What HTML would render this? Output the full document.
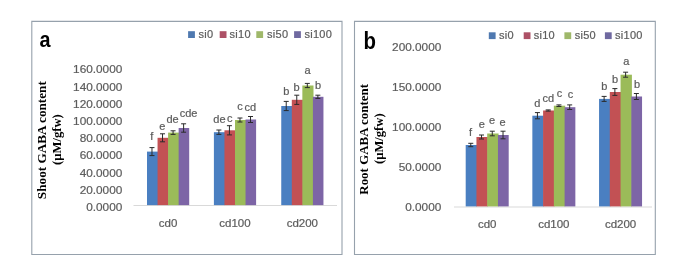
<!DOCTYPE html>
<html><head><meta charset="utf-8"><style>
html,body{margin:0;padding:0;background:#fff;width:685px;height:260px;overflow:hidden}
svg{display:block;filter:blur(0.3px)}
</style></head><body>
<svg width="685" height="260" viewBox="0 0 685 260">
<rect width="685" height="260" fill="#fff"/>
<path d="M31.8 21.4H342M31.8 254.5H342M31.8 21.4V254.5M342 21.4V254.5" fill="none" stroke="#96a1ac" stroke-width="1.1" stroke-linecap="square"/>
<text transform="translate(39.6,47.1) scale(0.9,1)" font-family="Liberation Sans, sans-serif" font-weight="bold" font-size="22" fill="#000">a</text>
<rect x="188.1" y="31.2" width="6.8" height="6.8" fill="#4f79b0"/>
<text x="198.6" y="38.4" font-family="Liberation Sans, sans-serif" font-size="11" letter-spacing="0.25" fill="#595959" stroke="#666" stroke-width="0.22">si0</text>
<rect x="219.7" y="31.2" width="6.8" height="6.8" fill="#ad5166"/>
<text x="229.6" y="38.4" font-family="Liberation Sans, sans-serif" font-size="11" letter-spacing="0.25" fill="#595959" stroke="#666" stroke-width="0.22">si10</text>
<rect x="256.3" y="31.2" width="6.8" height="6.8" fill="#9fb86a"/>
<text x="267.1" y="38.4" font-family="Liberation Sans, sans-serif" font-size="11" letter-spacing="0.25" fill="#595959" stroke="#666" stroke-width="0.22">si50</text>
<rect x="294.1" y="31.2" width="6.8" height="6.8" fill="#6f69a0"/>
<text x="304.5" y="38.4" font-family="Liberation Sans, sans-serif" font-size="11" letter-spacing="0.25" fill="#595959" stroke="#666" stroke-width="0.22">si100</text>
<text x="122.3" y="211.00" text-anchor="end" font-family="Liberation Sans, sans-serif" font-size="11.8" fill="#595959" stroke="#666" stroke-width="0.22">0.0000</text>
<text x="122.3" y="193.79" text-anchor="end" font-family="Liberation Sans, sans-serif" font-size="11.8" fill="#595959" stroke="#666" stroke-width="0.22">20.0000</text>
<text x="122.3" y="176.58" text-anchor="end" font-family="Liberation Sans, sans-serif" font-size="11.8" fill="#595959" stroke="#666" stroke-width="0.22">40.0000</text>
<text x="122.3" y="159.36" text-anchor="end" font-family="Liberation Sans, sans-serif" font-size="11.8" fill="#595959" stroke="#666" stroke-width="0.22">60.0000</text>
<text x="122.3" y="142.15" text-anchor="end" font-family="Liberation Sans, sans-serif" font-size="11.8" fill="#595959" stroke="#666" stroke-width="0.22">80.0000</text>
<text x="122.3" y="124.94" text-anchor="end" font-family="Liberation Sans, sans-serif" font-size="11.8" fill="#595959" stroke="#666" stroke-width="0.22">100.0000</text>
<text x="122.3" y="107.73" text-anchor="end" font-family="Liberation Sans, sans-serif" font-size="11.8" fill="#595959" stroke="#666" stroke-width="0.22">120.0000</text>
<text x="122.3" y="90.52" text-anchor="end" font-family="Liberation Sans, sans-serif" font-size="11.8" fill="#595959" stroke="#666" stroke-width="0.22">140.0000</text>
<text x="122.3" y="73.30" text-anchor="end" font-family="Liberation Sans, sans-serif" font-size="11.8" fill="#595959" stroke="#666" stroke-width="0.22">160.0000</text>
<line x1="133.5" y1="205.5" x2="337" y2="205.5" stroke="#d9d9d9" stroke-width="1"/>
<rect x="147.00" y="151.60" width="11.15" height="53.50" fill="#4a7fc1"/>
<rect x="157.55" y="137.80" width="11.15" height="67.30" fill="#c25154"/>
<rect x="168.10" y="132.60" width="11.15" height="72.50" fill="#9bbb59"/>
<rect x="178.65" y="128.00" width="10.55" height="77.10" fill="#7d65a6"/>
<path d="M151.97 147.60V155.60M149.47 147.60H154.47M149.47 155.60H154.47" stroke="#2b2b2b" stroke-width="1" fill="none"/>
<text x="151.80" y="140.40" text-anchor="middle" font-family="Liberation Sans, sans-serif" font-size="11" fill="#595959" stroke="#666" stroke-width="0.22">f</text>
<path d="M162.53 133.80V141.80M160.03 133.80H165.03M160.03 141.80H165.03" stroke="#2b2b2b" stroke-width="1" fill="none"/>
<text x="162.30" y="130.00" text-anchor="middle" font-family="Liberation Sans, sans-serif" font-size="11" fill="#595959" stroke="#666" stroke-width="0.22">e</text>
<path d="M173.07 130.80V134.40M170.57 130.80H175.57M170.57 134.40H175.57" stroke="#2b2b2b" stroke-width="1" fill="none"/>
<text x="172.60" y="123.00" text-anchor="middle" font-family="Liberation Sans, sans-serif" font-size="11" fill="#595959" stroke="#666" stroke-width="0.22">de</text>
<path d="M183.62 123.80V132.20M181.12 123.80H186.12M181.12 132.20H186.12" stroke="#2b2b2b" stroke-width="1" fill="none"/>
<text x="188.50" y="117.30" text-anchor="middle" font-family="Liberation Sans, sans-serif" font-size="11" fill="#595959" stroke="#666" stroke-width="0.22">cde</text>
<rect x="213.90" y="132.20" width="11.15" height="72.90" fill="#4a7fc1"/>
<rect x="224.45" y="130.30" width="11.15" height="74.80" fill="#c25154"/>
<rect x="235.00" y="120.00" width="11.15" height="85.10" fill="#9bbb59"/>
<rect x="245.55" y="119.50" width="10.55" height="85.60" fill="#7d65a6"/>
<path d="M218.88 130.00V134.40M216.38 130.00H221.38M216.38 134.40H221.38" stroke="#2b2b2b" stroke-width="1" fill="none"/>
<text x="219.40" y="122.70" text-anchor="middle" font-family="Liberation Sans, sans-serif" font-size="11" fill="#595959" stroke="#666" stroke-width="0.22">de</text>
<path d="M229.43 125.70V134.90M226.93 125.70H231.93M226.93 134.90H231.93" stroke="#2b2b2b" stroke-width="1" fill="none"/>
<text x="229.80" y="121.50" text-anchor="middle" font-family="Liberation Sans, sans-serif" font-size="11" fill="#595959" stroke="#666" stroke-width="0.22">c</text>
<path d="M239.97 118.00V122.00M237.47 118.00H242.47M237.47 122.00H242.47" stroke="#2b2b2b" stroke-width="1" fill="none"/>
<text x="240.00" y="110.20" text-anchor="middle" font-family="Liberation Sans, sans-serif" font-size="11" fill="#595959" stroke="#666" stroke-width="0.22">c</text>
<path d="M250.53 116.50V122.50M248.03 116.50H253.03M248.03 122.50H253.03" stroke="#2b2b2b" stroke-width="1" fill="none"/>
<text x="250.20" y="111.00" text-anchor="middle" font-family="Liberation Sans, sans-serif" font-size="11" fill="#595959" stroke="#666" stroke-width="0.22">cd</text>
<rect x="281.25" y="106.00" width="11.15" height="99.10" fill="#4a7fc1"/>
<rect x="291.80" y="99.80" width="11.15" height="105.30" fill="#c25154"/>
<rect x="302.35" y="85.50" width="11.15" height="119.60" fill="#9bbb59"/>
<rect x="312.90" y="96.80" width="10.55" height="108.30" fill="#7d65a6"/>
<path d="M286.22 101.40V110.60M283.72 101.40H288.72M283.72 110.60H288.72" stroke="#2b2b2b" stroke-width="1" fill="none"/>
<text x="286.30" y="95.10" text-anchor="middle" font-family="Liberation Sans, sans-serif" font-size="11" fill="#595959" stroke="#666" stroke-width="0.22">b</text>
<path d="M296.77 95.20V104.40M294.27 95.20H299.27M294.27 104.40H299.27" stroke="#2b2b2b" stroke-width="1" fill="none"/>
<text x="296.60" y="90.80" text-anchor="middle" font-family="Liberation Sans, sans-serif" font-size="11" fill="#595959" stroke="#666" stroke-width="0.22">b</text>
<path d="M307.32 83.40V87.60M304.82 83.40H309.82M304.82 87.60H309.82" stroke="#2b2b2b" stroke-width="1" fill="none"/>
<text x="307.50" y="74.20" text-anchor="middle" font-family="Liberation Sans, sans-serif" font-size="11" fill="#595959" stroke="#666" stroke-width="0.22">a</text>
<path d="M317.87 95.20V98.40M315.37 95.20H320.37M315.37 98.40H320.37" stroke="#2b2b2b" stroke-width="1" fill="none"/>
<text x="318.00" y="88.70" text-anchor="middle" font-family="Liberation Sans, sans-serif" font-size="11" fill="#595959" stroke="#666" stroke-width="0.22">b</text>
<text x="168.10" y="227.2" text-anchor="middle" font-family="Liberation Sans, sans-serif" font-size="11.5" fill="#595959" stroke="#666" stroke-width="0.22">cd0</text>
<text x="235.00" y="227.2" text-anchor="middle" font-family="Liberation Sans, sans-serif" font-size="11.5" fill="#595959" stroke="#666" stroke-width="0.22">cd100</text>
<text x="302.35" y="227.2" text-anchor="middle" font-family="Liberation Sans, sans-serif" font-size="11.5" fill="#595959" stroke="#666" stroke-width="0.22">cd200</text>
<text transform="translate(45.6,140.15) rotate(-90)" text-anchor="middle" font-family="Liberation Serif, serif" font-weight="bold" font-size="13.2" fill="#000">Shoot GABA content</text>
<text transform="translate(61.2,139.6) rotate(-90)" text-anchor="middle" font-family="Liberation Serif, serif" font-weight="bold" font-size="12.6" fill="#000">(µM/gfw)</text>
<path d="M354.5 21.4H655.3M354.5 254.5H655.3M354.5 21.4V254.5M655.3 21.4V254.5" fill="none" stroke="#96a1ac" stroke-width="1.1" stroke-linecap="square"/>
<text transform="translate(363.4,48.6) scale(0.84,1)" font-family="Liberation Sans, sans-serif" font-weight="bold" font-size="24.3" fill="#000">b</text>
<rect x="488.8" y="32.3" width="6.8" height="6.8" fill="#4f79b0"/>
<text x="499" y="39.2" font-family="Liberation Sans, sans-serif" font-size="11" letter-spacing="0.25" fill="#595959" stroke="#666" stroke-width="0.22">si0</text>
<rect x="523.7" y="32.3" width="6.8" height="6.8" fill="#ad5166"/>
<text x="533.7" y="39.2" font-family="Liberation Sans, sans-serif" font-size="11" letter-spacing="0.25" fill="#595959" stroke="#666" stroke-width="0.22">si10</text>
<rect x="564.4" y="32.3" width="6.8" height="6.8" fill="#9fb86a"/>
<text x="574.7" y="39.2" font-family="Liberation Sans, sans-serif" font-size="11" letter-spacing="0.25" fill="#595959" stroke="#666" stroke-width="0.22">si50</text>
<rect x="604.9" y="32.3" width="6.8" height="6.8" fill="#6f69a0"/>
<text x="615.1" y="39.2" font-family="Liberation Sans, sans-serif" font-size="11" letter-spacing="0.25" fill="#595959" stroke="#666" stroke-width="0.22">si100</text>
<text x="441.3" y="210.70" text-anchor="end" font-family="Liberation Sans, sans-serif" font-size="11.8" fill="#595959" stroke="#666" stroke-width="0.22">0.0000</text>
<text x="441.3" y="170.88" text-anchor="end" font-family="Liberation Sans, sans-serif" font-size="11.8" fill="#595959" stroke="#666" stroke-width="0.22">50.0000</text>
<text x="441.3" y="131.05" text-anchor="end" font-family="Liberation Sans, sans-serif" font-size="11.8" fill="#595959" stroke="#666" stroke-width="0.22">100.0000</text>
<text x="441.3" y="91.22" text-anchor="end" font-family="Liberation Sans, sans-serif" font-size="11.8" fill="#595959" stroke="#666" stroke-width="0.22">150.0000</text>
<text x="441.3" y="51.40" text-anchor="end" font-family="Liberation Sans, sans-serif" font-size="11.8" fill="#595959" stroke="#666" stroke-width="0.22">200.0000</text>
<line x1="454" y1="207" x2="652" y2="207" stroke="#d9d9d9" stroke-width="1"/>
<rect x="465.70" y="145.00" width="11.35" height="61.40" fill="#4a7fc1"/>
<rect x="476.45" y="137.00" width="11.35" height="69.40" fill="#c25154"/>
<rect x="487.20" y="133.50" width="11.35" height="72.90" fill="#9bbb59"/>
<rect x="497.95" y="135.00" width="10.75" height="71.40" fill="#7d65a6"/>
<path d="M470.77 143.30V146.70M468.27 143.30H473.27M468.27 146.70H473.27" stroke="#2b2b2b" stroke-width="1" fill="none"/>
<text x="470.60" y="135.80" text-anchor="middle" font-family="Liberation Sans, sans-serif" font-size="11" fill="#595959" stroke="#666" stroke-width="0.22">f</text>
<path d="M481.52 135.00V139.00M479.02 135.00H484.02M479.02 139.00H484.02" stroke="#2b2b2b" stroke-width="1" fill="none"/>
<text x="481.70" y="127.70" text-anchor="middle" font-family="Liberation Sans, sans-serif" font-size="11" fill="#595959" stroke="#666" stroke-width="0.22">e</text>
<path d="M492.27 131.20V135.80M489.77 131.20H494.77M489.77 135.80H494.77" stroke="#2b2b2b" stroke-width="1" fill="none"/>
<text x="492.00" y="123.70" text-anchor="middle" font-family="Liberation Sans, sans-serif" font-size="11" fill="#595959" stroke="#666" stroke-width="0.22">e</text>
<path d="M503.02 131.20V138.80M500.52 131.20H505.52M500.52 138.80H505.52" stroke="#2b2b2b" stroke-width="1" fill="none"/>
<text x="502.60" y="126.10" text-anchor="middle" font-family="Liberation Sans, sans-serif" font-size="11" fill="#595959" stroke="#666" stroke-width="0.22">e</text>
<rect x="532.35" y="115.70" width="11.35" height="90.70" fill="#4a7fc1"/>
<rect x="543.10" y="110.50" width="11.35" height="95.90" fill="#c25154"/>
<rect x="553.85" y="105.70" width="11.35" height="100.70" fill="#9bbb59"/>
<rect x="564.60" y="107.20" width="10.75" height="99.20" fill="#7d65a6"/>
<path d="M537.43 112.60V118.80M534.93 112.60H539.93M534.93 118.80H539.93" stroke="#2b2b2b" stroke-width="1" fill="none"/>
<text x="537.30" y="106.80" text-anchor="middle" font-family="Liberation Sans, sans-serif" font-size="11" fill="#595959" stroke="#666" stroke-width="0.22">d</text>
<path d="M548.18 109.90V111.10M545.68 109.90H550.68M545.68 111.10H550.68" stroke="#2b2b2b" stroke-width="1" fill="none"/>
<text x="548.30" y="102.00" text-anchor="middle" font-family="Liberation Sans, sans-serif" font-size="11" fill="#595959" stroke="#666" stroke-width="0.22">cd</text>
<path d="M558.93 104.90V106.50M556.43 104.90H561.43M556.43 106.50H561.43" stroke="#2b2b2b" stroke-width="1" fill="none"/>
<text x="559.60" y="96.80" text-anchor="middle" font-family="Liberation Sans, sans-serif" font-size="11" fill="#595959" stroke="#666" stroke-width="0.22">c</text>
<path d="M569.68 104.90V109.50M567.18 104.90H572.18M567.18 109.50H572.18" stroke="#2b2b2b" stroke-width="1" fill="none"/>
<text x="570.40" y="97.80" text-anchor="middle" font-family="Liberation Sans, sans-serif" font-size="11" fill="#595959" stroke="#666" stroke-width="0.22">c</text>
<rect x="599.05" y="98.90" width="11.35" height="107.50" fill="#4a7fc1"/>
<rect x="609.80" y="92.00" width="11.35" height="114.40" fill="#c25154"/>
<rect x="620.55" y="74.70" width="11.35" height="131.70" fill="#9bbb59"/>
<rect x="631.30" y="96.50" width="10.75" height="109.90" fill="#7d65a6"/>
<path d="M604.12 96.40V101.40M601.62 96.40H606.62M601.62 101.40H606.62" stroke="#2b2b2b" stroke-width="1" fill="none"/>
<text x="604.40" y="89.70" text-anchor="middle" font-family="Liberation Sans, sans-serif" font-size="11" fill="#595959" stroke="#666" stroke-width="0.22">b</text>
<path d="M614.88 88.60V95.40M612.38 88.60H617.38M612.38 95.40H617.38" stroke="#2b2b2b" stroke-width="1" fill="none"/>
<text x="615.00" y="83.20" text-anchor="middle" font-family="Liberation Sans, sans-serif" font-size="11" fill="#595959" stroke="#666" stroke-width="0.22">b</text>
<path d="M625.62 72.20V77.20M623.12 72.20H628.12M623.12 77.20H628.12" stroke="#2b2b2b" stroke-width="1" fill="none"/>
<text x="626.20" y="65.00" text-anchor="middle" font-family="Liberation Sans, sans-serif" font-size="11" fill="#595959" stroke="#666" stroke-width="0.22">a</text>
<path d="M636.38 93.50V99.50M633.88 93.50H638.88M633.88 99.50H638.88" stroke="#2b2b2b" stroke-width="1" fill="none"/>
<text x="637.00" y="88.30" text-anchor="middle" font-family="Liberation Sans, sans-serif" font-size="11" fill="#595959" stroke="#666" stroke-width="0.22">b</text>
<text x="487.20" y="227.7" text-anchor="middle" font-family="Liberation Sans, sans-serif" font-size="11.5" fill="#595959" stroke="#666" stroke-width="0.22">cd0</text>
<text x="553.85" y="227.7" text-anchor="middle" font-family="Liberation Sans, sans-serif" font-size="11.5" fill="#595959" stroke="#666" stroke-width="0.22">cd100</text>
<text x="620.55" y="227.7" text-anchor="middle" font-family="Liberation Sans, sans-serif" font-size="11.5" fill="#595959" stroke="#666" stroke-width="0.22">cd200</text>
<text transform="translate(367.8,139.35) rotate(-90)" text-anchor="middle" font-family="Liberation Serif, serif" font-weight="bold" font-size="12.95" fill="#000">Root GABA content</text>
<text transform="translate(383.2,138.7) rotate(-90)" text-anchor="middle" font-family="Liberation Serif, serif" font-weight="bold" font-size="12.6" fill="#000">(µM/gfw)</text>
</svg>
</body></html>
